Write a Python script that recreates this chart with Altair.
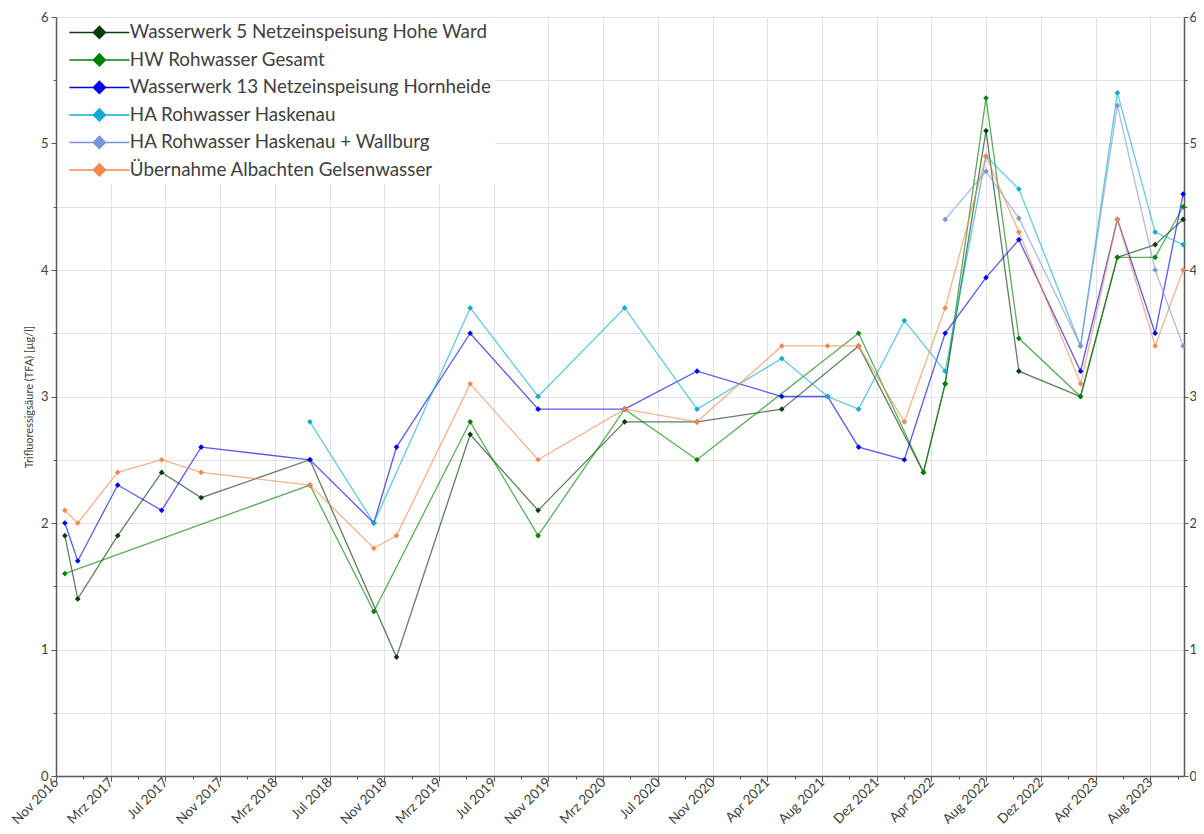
import json
import pandas as pd
import altair as alt

# ---------------- data ----------------
series_names = [
    "Wasserwerk 5 Netzeinspeisung Hohe Ward",
    "HW Rohwasser Gesamt",
    "Wasserwerk 13 Netzeinspeisung Hornheide",
    "HA Rohwasser Haskenau",
    "HA Rohwasser Haskenau + Wallburg",
    "Übernahme Albachten Gelsenwasser",
]
series_colors = ["#0B3B0B", "#008200", "#0000F0", "#12AAD4", "#7F93D9", "#F5884E"]

dates_ww5 = ["2016-12-02", "2016-12-31", "2017-03-31", "2017-07-08", "2017-10-05", "2018-06-07",
             "2018-12-19", "2019-06-03", "2019-11-03", "2020-05-16", "2020-10-26", "2021-05-05",
             "2021-10-25", "2022-03-20", "2022-05-08", "2022-08-08", "2022-10-21", "2023-03-09",
             "2023-05-31", "2023-08-24", "2023-10-26"]
vals_ww5 = [1.9, 1.4, 1.9, 2.4, 2.2, 2.5, 0.94, 2.7, 2.1, 2.8, 2.8, 2.9, 3.4, 2.4, 3.1, 5.1, 3.2, 3.0,
            4.1, 4.2, 4.4]

dates_hw = ["2016-12-02", "2018-06-07", "2018-10-29", "2019-06-03", "2019-11-03", "2020-05-16",
            "2020-10-26", "2021-10-25", "2022-03-20", "2022-05-08", "2022-08-08", "2022-10-21",
            "2023-03-09", "2023-05-31", "2023-08-24", "2023-10-26"]
vals_hw = [1.6, 2.3, 1.3, 2.8, 1.9, 2.9, 2.5, 3.5, 2.4, 3.1, 5.36, 3.46, 3.0, 4.1, 4.1, 4.5]

dates_ww13 = ["2016-12-02", "2016-12-31", "2017-03-31", "2017-07-08", "2017-10-05", "2018-06-07",
              "2018-10-29", "2018-12-19", "2019-06-03", "2019-11-03", "2020-05-16", "2020-10-26",
              "2021-05-05", "2021-08-16", "2021-10-25", "2022-02-05", "2022-05-08", "2022-08-08",
              "2022-10-21", "2023-03-09", "2023-05-31", "2023-08-24", "2023-10-26"]
vals_ww13 = [2.0, 1.7, 2.3, 2.1, 2.6, 2.5, 2.0, 2.6, 3.5, 2.9, 2.9, 3.2, 3.0, 3.0, 2.6, 2.5, 3.5,
             3.94, 4.24, 3.2, 4.4, 3.5, 4.6]

dates_ha = ["2018-06-07", "2018-10-29", "2019-06-03", "2019-11-03", "2020-05-16", "2020-10-26",
            "2021-05-05", "2021-08-16", "2021-10-25", "2022-02-05", "2022-05-08", "2022-08-08",
            "2022-10-21", "2023-03-09", "2023-05-31", "2023-08-24", "2023-10-26"]
vals_ha = [2.8, 2.0, 3.7, 3.0, 3.7, 2.9, 3.3, 3.0, 2.9, 3.6, 3.2, 4.9, 4.64, 3.4, 5.4, 4.3, 4.2]

dates_haw = ["2022-05-08", "2022-08-08", "2022-10-21", "2023-03-09", "2023-05-31", "2023-08-24",
             "2023-10-26"]
vals_haw = [4.4, 4.78, 4.41, 3.4, 5.3, 4.0, 3.4]

dates_alb = ["2016-12-02", "2016-12-31", "2017-03-31", "2017-07-08", "2017-10-05", "2018-06-07",
             "2018-10-29", "2018-12-19", "2019-06-03", "2019-11-03", "2020-05-16", "2020-10-26",
             "2021-05-05", "2021-08-16", "2021-10-25", "2022-02-05", "2022-05-08", "2022-08-08",
             "2022-10-21", "2023-03-09", "2023-05-31", "2023-08-24", "2023-10-26"]
vals_alb = [2.1, 2.0, 2.4, 2.5, 2.4, 2.3, 1.8, 1.9, 3.1, 2.5, 2.9, 2.8, 3.4, 3.4, 3.4, 2.8, 3.7,
            4.9, 4.3, 3.1, 4.4, 3.4, 4.0]

tick_labels = ["Nov 2016", "Mrz 2017", "Jul 2017", "Nov 2017", "Mrz 2018", "Jul 2018", "Nov 2018",
               "Mrz 2019", "Jul 2019", "Nov 2019", "Mrz 2020", "Jul 2020", "Nov 2020", "Apr 2021",
               "Aug 2021", "Dez 2021", "Apr 2022", "Aug 2022", "Dez 2022", "Apr 2023", "Aug 2023"]

y_title = "Trifluoressigsäure (TFA)  [µg/l]"

# ---------------- table ----------------
all_dates = [dates_ww5, dates_hw, dates_ww13, dates_ha, dates_haw, dates_alb]
all_vals = [vals_ww5, vals_hw, vals_ww13, vals_ha, vals_haw, vals_alb]
rows = []
for name, ds, vs in zip(series_names, all_dates, all_vals):
    for d, v in zip(ds, vs):
        rows.append({"series": name, "date": d, "value": v})
df = pd.DataFrame(rows)

# ---------------- axis configuration ----------------
def ms(s):
    return int((pd.Timestamp(s) - pd.Timestamp("1970-01-01")) // pd.Timedelta("1ms"))

axis_start = ms("2016-11-12")
axis_end = ms("2023-10-28")
step = int(123.25 * 86400000)
x_ticks = [axis_start + k * step // 2 for k in range(0, 42)]

idx = f"((time(datum.value) - {axis_start}) / {step})"
major = f"abs({idx} - round({idx})) < 0.25"
x_label_expr = f"{major} ? {json.dumps(tick_labels)}[round({idx})] : ''"

FONT = "Lato"
AX = "#404040"
LINE = "#5A5A5A"

x_axis = alt.Axis(
    values=x_ticks, labelExpr=x_label_expr, labelAngle=-45, labelAlign="right",
    labelBaseline="middle", labelFontSize=13.5, labelPadding=-1, title=None,
    grid=True, gridColor="#E2E2E2",
    gridOpacity={"condition": {"test": major, "value": 1}, "value": 0},
    tickSize={"condition": {"test": major, "value": 5}, "value": 3},
    labelOverlap=False,
)

int_label = "datum.value % 1 == 0 ? format(datum.value, 'd') : ''"
y_vals = [i * 0.5 for i in range(13)]
y_left = alt.Axis(
    values=y_vals, labelExpr=int_label,
    tickSize={"condition": {"test": "datum.value % 1 == 0", "value": 5}, "value": 3},
    grid=True, gridColor="#E2E2E2", title=y_title, titleFontSize=11,
    titleFontWeight="normal", titleColor=AX, titleFont=FONT, titlePadding=6,
    labelFontSize=13, labelPadding=3,
)
y_right = alt.Axis(
    values=y_vals, labelExpr=int_label,
    tickSize={"condition": {"test": "datum.value % 1 == 0", "value": 4}, "value": 3},
    grid=False, title=None, orient="right", labelFontSize=13, labelPadding=1,
)

legend = alt.Legend(
    title=None, orient="none", legendX=2, legendY=2,
    symbolType="M-5,0L5,0M0,-1L1,0L0,1L-1,0Z",
    symbolSize=144, symbolStrokeWidth=1.5, symbolOpacity=1,
    symbolOffset=28, labelOffset=21,
    labelFont=FONT, labelFontSize=18.8, labelColor=AX, labelLimit=600,
    rowPadding=7.5, padding=4, fillColor="white",
)

color = alt.Color("series:N", scale=alt.Scale(domain=series_names, range=series_colors),
                  sort=series_names, legend=legend)
x_enc = alt.X("date:T", scale=alt.Scale(type="utc", domain=[axis_start, axis_end]), axis=x_axis)
y_dom = alt.Scale(domain=[0, 6], nice=False, zero=True)

lines = alt.Chart(df).mark_line(strokeWidth=1.3, opacity=0.65).encode(
    x=x_enc, y=alt.Y("value:Q", scale=y_dom, axis=y_left), color=color,
)
points = alt.Chart(df).mark_point(shape="diamond", filled=True, size=32, opacity=1).encode(
    x=x_enc, y=alt.Y("value:Q", scale=y_dom, axis=y_right), color=color,
)

chart = (
    alt.layer(lines, points)
    .resolve_axis(y="independent")
    .properties(
        width=1128, height=759,
        autosize=alt.AutoSizeParams(type="none"),
        padding={"left": 48, "top": 9, "right": 12, "bottom": 50},
    )
    .configure_view(stroke=None)
    .configure_axis(
        domainColor=LINE, domainWidth=1.5, tickColor=LINE, labelColor=AX,
        labelFont=FONT,
    )
)

chart.save("out.html", embed_options={"renderer": "svg", "actions": False})
